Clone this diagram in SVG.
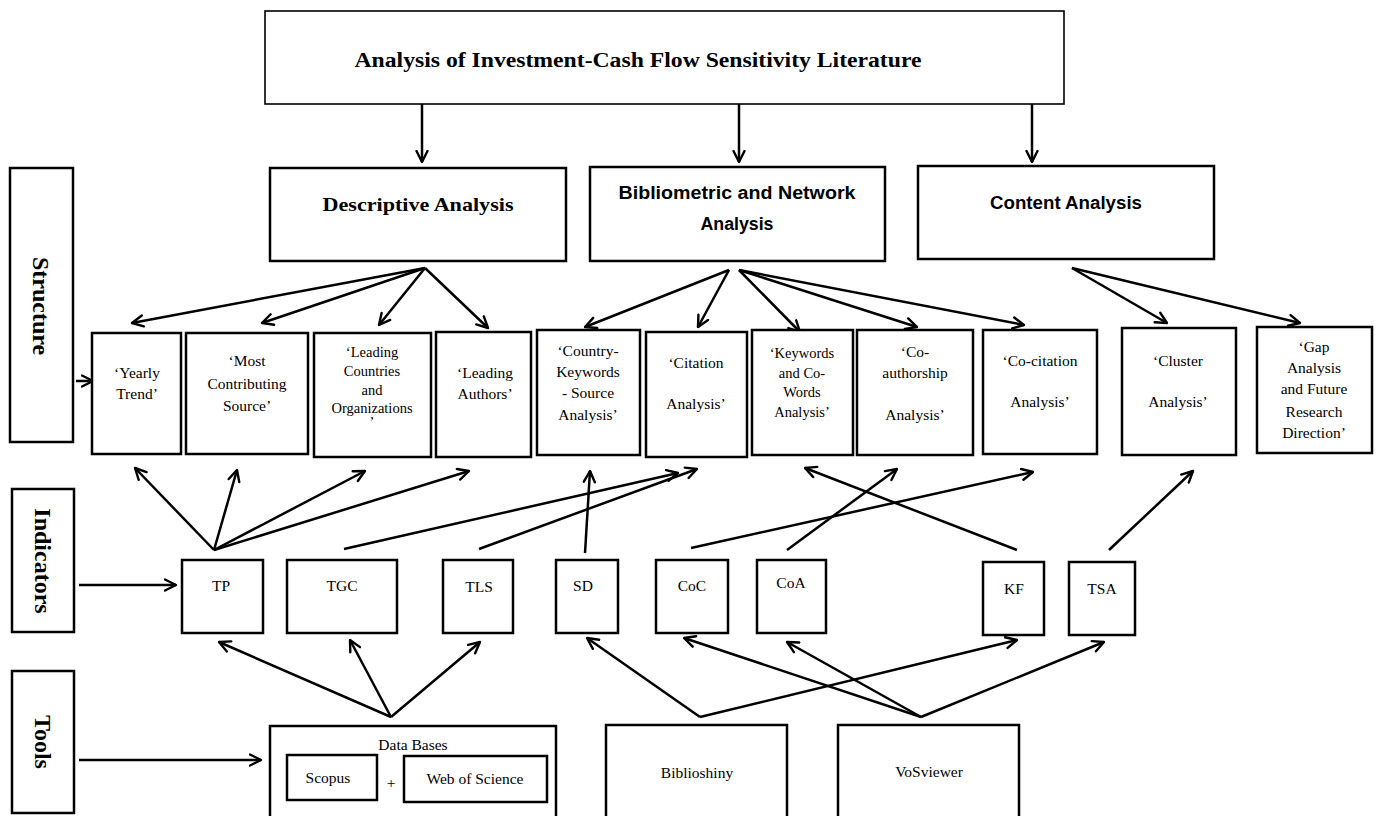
<svg xmlns="http://www.w3.org/2000/svg" width="1379" height="816" viewBox="0 0 1379 816">
<defs>
<marker id="ah" viewBox="0 0 14 14" refX="12.5" refY="7" markerWidth="14" markerHeight="14" markerUnits="userSpaceOnUse" orient="auto">
<path d="M1.5,1.5 L12.5,7 L1.5,12.5" fill="none" stroke="#000" stroke-width="2.4" stroke-linecap="round" stroke-linejoin="round"/>
</marker>
<style>
.box{fill:#fff;stroke:#000;stroke-width:2.5}
.thin{stroke-width:1.6}
.conn line{stroke:#000;stroke-width:2.5;marker-end:url(#ah)}
.t{font-family:"Liberation Serif","Times New Roman",serif;font-size:15.5px;text-anchor:middle;fill:#000}
.s{font-size:14.5px}
.hb{font-family:"Liberation Serif","Times New Roman",serif;font-weight:bold;text-anchor:middle;fill:#000}
.sb{font-family:"Liberation Sans",Arial,sans-serif;font-weight:bold;font-size:18px;text-anchor:middle;fill:#000}
.side{font-family:"Liberation Serif","Times New Roman",serif;font-weight:bold;font-size:24px;text-anchor:middle;fill:#000}
</style>
</defs>
<rect width="1379" height="816" fill="#fff"/>

<g id="connectors" class="conn">
<line x1="422" y1="104" x2="422" y2="162"/>
<line x1="739" y1="104" x2="739" y2="162"/>
<line x1="1032" y1="104" x2="1032" y2="162"/>
<line x1="425" y1="268" x2="132" y2="323"/>
<line x1="425" y1="268" x2="262" y2="323"/>
<line x1="425" y1="268" x2="379" y2="325"/>
<line x1="425" y1="268" x2="488" y2="328"/>
<line x1="729" y1="270" x2="585" y2="327"/>
<line x1="729" y1="270" x2="698" y2="327"/>
<line x1="739" y1="270" x2="800" y2="332"/>
<line x1="739" y1="270" x2="917" y2="327"/>
<line x1="739" y1="270" x2="1024" y2="325"/>
<line x1="1072" y1="268" x2="1167" y2="323"/>
<line x1="1072" y1="268" x2="1300" y2="323"/>
<line x1="76" y1="381" x2="93" y2="381"/>
<line x1="79" y1="585" x2="176" y2="585"/>
<line x1="79" y1="760" x2="261" y2="760"/>
<line x1="214" y1="550" x2="135" y2="468"/>
<line x1="214" y1="550" x2="237" y2="470"/>
<line x1="214" y1="550" x2="365" y2="471"/>
<line x1="214" y1="550" x2="469" y2="471"/>
<line x1="344" y1="549" x2="678" y2="473"/>
<line x1="479" y1="549" x2="697" y2="469"/>
<line x1="585" y1="553" x2="590" y2="471"/>
<line x1="691" y1="548" x2="1033" y2="472"/>
<line x1="787" y1="550" x2="897" y2="469"/>
<line x1="1017" y1="550" x2="805" y2="468"/>
<line x1="1109" y1="550" x2="1193" y2="471"/>
<line x1="391" y1="717" x2="219" y2="642"/>
<line x1="391" y1="717" x2="350" y2="640"/>
<line x1="391" y1="717" x2="480" y2="642"/>
<line x1="700" y1="717" x2="587" y2="638"/>
<line x1="700" y1="717" x2="1017" y2="640"/>
<line x1="921" y1="717" x2="684" y2="638"/>
<line x1="921" y1="717" x2="787" y2="642"/>
<line x1="921" y1="717" x2="1104" y2="642"/>
</g>

<g id="title">
<rect class="box thin" x="265" y="11" width="799" height="93"/>
<text class="hb" x="638" y="67" font-size="20" textLength="567" lengthAdjust="spacingAndGlyphs">Analysis of Investment-Cash Flow Sensitivity Literature</text>
</g>

<g id="descriptive">
<rect class="box" x="270" y="168" width="296" height="93"/>
<text class="hb" x="418" y="211" font-size="19" textLength="191" lengthAdjust="spacingAndGlyphs">Descriptive Analysis</text>
</g>
<g id="bibliometric">
<rect class="box" x="590" y="167" width="295" height="94"/>
<text class="sb" x="737" y="199" textLength="237" lengthAdjust="spacingAndGlyphs">Bibliometric and Network</text>
<text class="sb" x="737" y="230" textLength="73" lengthAdjust="spacingAndGlyphs">Analysis</text>
</g>
<g id="content">
<rect class="box" x="918" y="166" width="296" height="93"/>
<text class="sb" x="1066" y="209" textLength="152" lengthAdjust="spacingAndGlyphs">Content Analysis</text>
</g>

<g id="structure">
<rect class="box" x="10" y="168" width="63" height="274"/>
<text class="side" transform="translate(33,306) rotate(90)">Structure</text>
</g>
<g id="indicators">
<rect class="box" x="12" y="489" width="62" height="143"/>
<text class="side" transform="translate(35,561) rotate(90)">Indicators</text>
</g>
<g id="tools">
<rect class="box" x="12" y="671" width="62" height="142"/>
<text class="side" transform="translate(35,742) rotate(90)">Tools</text>
</g>

<g id="yearly-trend">
<rect class="box" x="92" y="333" width="89" height="121"/>
<text class="t" x="137" y="378">‘Yearly</text>
<text class="t" x="137" y="399">Trend’</text>
</g>
<g id="most-contributing">
<rect class="box" x="186" y="333" width="122" height="121"/>
<text class="t" x="247" y="366">‘Most</text>
<text class="t" x="247" y="389">Contributing</text>
<text class="t" x="247" y="411">Source’</text>
</g>
<g id="leading-countries">
<rect class="box" x="314" y="333" width="117" height="124"/>
<text class="t s" x="372" y="357">‘Leading</text>
<text class="t s" x="372" y="376">Countries</text>
<text class="t s" x="372" y="395">and</text>
<text class="t s" x="372" y="413">Organizations</text>
<text class="t s" x="372" y="427">’</text>
</g>
<g id="leading-authors">
<rect class="box" x="436" y="332" width="95" height="125"/>
<text class="t" x="485" y="378">‘Leading</text>
<text class="t" x="485" y="399">Authors’</text>
</g>
<g id="country-keywords">
<rect class="box" x="537" y="330" width="103" height="125"/>
<text class="t" x="588" y="356">‘Country-</text>
<text class="t" x="588" y="377">Keywords</text>
<text class="t" x="588" y="398">- Source</text>
<text class="t" x="588" y="420">Analysis’</text>
</g>
<g id="citation">
<rect class="box" x="646" y="332" width="101" height="125"/>
<text class="t" x="696" y="368">‘Citation</text>
<text class="t" x="696" y="409">Analysis’</text>
</g>
<g id="keywords-cowords">
<rect class="box" x="752" y="330" width="101" height="125"/>
<text class="t s" x="802" y="358">‘Keywords</text>
<text class="t s" x="802" y="378">and Co-</text>
<text class="t s" x="802" y="397">Words</text>
<text class="t s" x="802" y="417">Analysis’</text>
</g>
<g id="co-authorship">
<rect class="box" x="857" y="330" width="116" height="125"/>
<text class="t" x="915" y="357">‘Co-</text>
<text class="t" x="915" y="378">authorship</text>
<text class="t" x="915" y="420">Analysis’</text>
</g>
<g id="co-citation">
<rect class="box" x="983" y="330" width="114" height="124"/>
<text class="t" x="1040" y="366">‘Co-citation</text>
<text class="t" x="1040" y="407">Analysis’</text>
</g>
<g id="cluster">
<rect class="box" x="1122" y="328" width="114" height="127"/>
<text class="t" x="1178" y="366">‘Cluster</text>
<text class="t" x="1178" y="407">Analysis’</text>
</g>
<g id="gap">
<rect class="box" x="1257" y="327" width="115" height="126"/>
<text class="t" x="1314" y="352">‘Gap</text>
<text class="t" x="1314" y="373">Analysis</text>
<text class="t" x="1314" y="394">and Future</text>
<text class="t" x="1314" y="417">Research</text>
<text class="t" x="1314" y="438">Direction’</text>
</g>

<g id="tp"><rect class="box" x="182" y="560" width="81" height="73"/><text class="t" x="221" y="591">TP</text></g>
<g id="tgc"><rect class="box" x="287" y="560" width="110" height="73"/><text class="t" x="342" y="591">TGC</text></g>
<g id="tls"><rect class="box" x="443" y="560" width="70" height="73"/><text class="t" x="479" y="592">TLS</text></g>
<g id="sd"><rect class="box" x="556" y="560" width="62" height="73"/><text class="t" x="583" y="591">SD</text></g>
<g id="coc"><rect class="box" x="656" y="560" width="72" height="73"/><text class="t" x="692" y="591">CoC</text></g>
<g id="coa"><rect class="box" x="757" y="560" width="69" height="73"/><text class="t" x="791" y="588">CoA</text></g>
<g id="kf"><rect class="box" x="983" y="562" width="61" height="73"/><text class="t" x="1014" y="594">KF</text></g>
<g id="tsa"><rect class="box" x="1069" y="562" width="66" height="73"/><text class="t" x="1102" y="594">TSA</text></g>

<g id="databases">
<rect class="box" x="270" y="726" width="286" height="100"/>
<text class="t" x="413" y="750">Data Bases</text>
<rect class="box" x="287" y="755" width="90" height="45"/>
<text class="t" x="328" y="783">Scopus</text>
<text class="t" x="391" y="788">+</text>
<rect class="box" x="404" y="756" width="143" height="46"/>
<text class="t" x="475" y="784">Web of Science</text>
</g>
<g id="biblioshiny">
<rect class="box" x="606" y="725" width="181" height="100"/>
<text class="t" x="697" y="778">Biblioshiny</text>
</g>
<g id="vosviewer">
<rect class="box" x="838" y="725" width="181" height="100"/>
<text class="t" x="929" y="777">VoSviewer</text>
</g>
</svg>
